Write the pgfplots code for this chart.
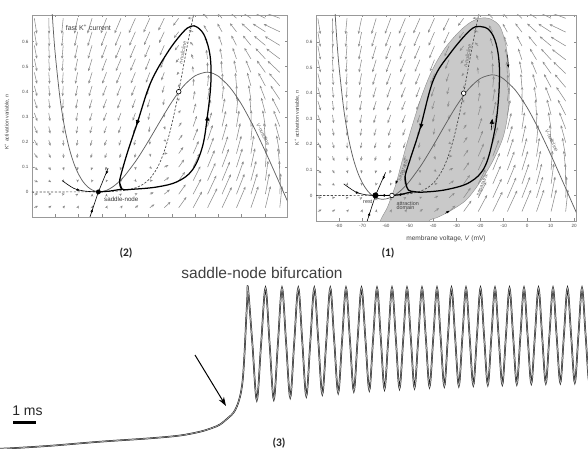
\documentclass[border=0pt]{standalone}
\usepackage{fontspec}
\setmainfont{Liberation Sans}
\newfontfamily\carl{Carlito}
\usepackage{pgfplots}
\usepackage{pgfplotstable}
\pgfplotsset{compat=1.18}
\usetikzlibrary{arrows.meta}
\newcommand\fs[1]{\fontsize{#1}{#1}\selectfont}

\pgfplotstableread{
x y du dn
-89 -0.063 102.3 0.063
-89 -0.009 101.8 0.009
-89 0.045 101.2 -0.045
-89 0.099 100.7 -0.099
-89 0.153 100.1 -0.153
-89 0.207 99.6 -0.207
-89 0.261 99.1 -0.261
-89 0.315 98.5 -0.315
-89 0.369 98.0 -0.369
-89 0.423 97.4 -0.423
-89 0.477 96.9 -0.477
-89 0.531 96.4 -0.531
-89 0.585 95.8 -0.585
-89 0.639 95.3 -0.639
-89 0.693 94.7 -0.693
-82.8 -0.063 69.7 0.063
-82.8 -0.009 65.8 0.009
-82.8 0.045 61.9 -0.045
-82.8 0.099 58.0 -0.099
-82.8 0.153 54.1 -0.153
-82.8 0.207 50.2 -0.207
-82.8 0.261 46.4 -0.261
-82.8 0.315 42.5 -0.315
-82.8 0.369 38.6 -0.369
-82.8 0.423 34.7 -0.423
-82.8 0.477 30.8 -0.477
-82.8 0.531 26.9 -0.531
-82.8 0.585 23.0 -0.585
-82.8 0.639 19.1 -0.639
-82.8 0.693 15.2 -0.693
-76.6 -0.063 42.6 0.063
-76.6 -0.009 35.4 0.009
-76.6 0.045 28.1 -0.045
-76.6 0.099 20.9 -0.099
-76.6 0.153 13.6 -0.153
-76.6 0.207 6.4 -0.207
-76.6 0.261 -0.8 -0.261
-76.6 0.315 -8.1 -0.315
-76.6 0.369 -15.3 -0.369
-76.6 0.423 -22.6 -0.423
-76.6 0.477 -29.8 -0.477
-76.6 0.531 -37.0 -0.531
-76.6 0.585 -44.3 -0.585
-76.6 0.639 -51.5 -0.639
-76.6 0.693 -58.8 -0.693
-70.4 -0.063 23.1 0.063
-70.4 -0.009 12.5 0.009
-70.4 0.045 1.9 -0.045
-70.4 0.099 -8.6 -0.099
-70.4 0.153 -19.2 -0.153
-70.4 0.207 -29.8 -0.207
-70.4 0.261 -40.4 -0.261
-70.4 0.315 -51.0 -0.315
-70.4 0.369 -61.5 -0.369
-70.4 0.423 -72.1 -0.423
-70.4 0.477 -82.7 -0.477
-70.4 0.531 -93.3 -0.531
-70.4 0.585 -103.9 -0.585
-70.4 0.639 -114.4 -0.639
-70.4 0.693 -125.0 -0.693
-64.2 -0.063 13.8 0.063
-64.2 -0.009 -0.1 0.009
-64.2 0.045 -14.1 -0.045
-64.2 0.099 -28.0 -0.099
-64.2 0.153 -41.9 -0.153
-64.2 0.207 -55.9 -0.207
-64.2 0.261 -69.8 -0.261
-64.2 0.315 -83.7 -0.315
-64.2 0.369 -97.6 -0.369
-64.2 0.423 -111.6 -0.423
-64.2 0.477 -125.5 -0.477
-64.2 0.531 -139.4 -0.531
-64.2 0.585 -153.4 -0.585
-64.2 0.639 -167.3 -0.639
-64.2 0.693 -181.2 -0.693
-58 -0.063 17.7 0.064
-58 -0.009 0.4 0.010
-58 0.045 -16.9 -0.044
-58 0.099 -34.1 -0.098
-58 0.153 -51.4 -0.152
-58 0.207 -68.7 -0.206
-58 0.261 -86.0 -0.260
-58 0.315 -103.3 -0.314
-58 0.369 -120.5 -0.368
-58 0.423 -137.8 -0.422
-58 0.477 -155.1 -0.476
-58 0.531 -172.4 -0.530
-58 0.585 -189.7 -0.584
-58 0.639 -206.9 -0.638
-58 0.693 -224.2 -0.692
-51.8 -0.063 38.2 0.068
-51.8 -0.009 17.6 0.014
-51.8 0.045 -3.1 -0.040
-51.8 0.099 -23.7 -0.094
-51.8 0.153 -44.3 -0.148
-51.8 0.207 -65.0 -0.202
-51.8 0.261 -85.6 -0.256
-51.8 0.315 -106.2 -0.310
-51.8 0.369 -126.8 -0.364
-51.8 0.423 -147.5 -0.418
-51.8 0.477 -168.1 -0.472
-51.8 0.531 -188.7 -0.526
-51.8 0.585 -209.4 -0.580
-51.8 0.639 -230.0 -0.634
-51.8 0.693 -250.6 -0.688
-45.6 -0.063 77.2 0.079
-45.6 -0.009 53.2 0.025
-45.6 0.045 29.2 -0.029
-45.6 0.099 5.3 -0.083
-45.6 0.153 -18.7 -0.137
-45.6 0.207 -42.7 -0.191
-45.6 0.261 -66.7 -0.245
-45.6 0.315 -90.7 -0.299
-45.6 0.369 -114.6 -0.353
-45.6 0.423 -138.6 -0.407
-45.6 0.477 -162.6 -0.461
-45.6 0.531 -186.6 -0.515
-45.6 0.585 -210.6 -0.569
-45.6 0.639 -234.5 -0.623
-45.6 0.693 -258.5 -0.677
-39.4 -0.063 135.1 0.116
-39.4 -0.009 107.8 0.062
-39.4 0.045 80.5 0.008
-39.4 0.099 53.1 -0.046
-39.4 0.153 25.8 -0.100
-39.4 0.207 -1.5 -0.154
-39.4 0.261 -28.8 -0.208
-39.4 0.315 -56.1 -0.262
-39.4 0.369 -83.5 -0.316
-39.4 0.423 -110.8 -0.370
-39.4 0.477 -138.1 -0.424
-39.4 0.531 -165.4 -0.478
-39.4 0.585 -192.7 -0.532
-39.4 0.639 -220.1 -0.586
-39.4 0.693 -247.4 -0.640
-33.2 -0.063 207.9 0.226
-33.2 -0.009 177.2 0.172
-33.2 0.045 146.6 0.118
-33.2 0.099 115.9 0.064
-33.2 0.153 85.2 0.010
-33.2 0.207 54.6 -0.045
-33.2 0.261 23.9 -0.099
-33.2 0.315 -6.8 -0.153
-33.2 0.369 -37.5 -0.207
-33.2 0.423 -68.1 -0.261
-33.2 0.477 -98.8 -0.315
-33.2 0.531 -129.5 -0.369
-33.2 0.585 -160.1 -0.423
-33.2 0.639 -190.8 -0.477
-33.2 0.693 -221.5 -0.531
-27 -0.063 286.3 0.464
-27 -0.009 252.3 0.410
-27 0.045 218.3 0.356
-27 0.099 184.2 0.302
-27 0.153 150.2 0.248
-27 0.207 116.2 0.194
-27 0.261 82.2 0.140
-27 0.315 48.2 0.086
-27 0.369 14.1 0.032
-27 0.423 -19.9 -0.022
-27 0.477 -53.9 -0.076
-27 0.531 -87.9 -0.130
-27 0.585 -121.9 -0.184
-27 0.639 -156.0 -0.238
-27 0.693 -190.0 -0.292
-20.8 -0.063 356.5 0.762
-20.8 -0.009 319.1 0.708
-20.8 0.045 281.8 0.654
-20.8 0.099 244.4 0.600
-20.8 0.153 207.0 0.546
-20.8 0.207 169.7 0.492
-20.8 0.261 132.3 0.438
-20.8 0.315 94.9 0.384
-20.8 0.369 57.5 0.330
-20.8 0.423 20.2 0.276
-20.8 0.477 -17.2 0.222
-20.8 0.531 -54.6 0.168
-20.8 0.585 -91.9 0.114
-20.8 0.639 -129.3 0.060
-20.8 0.693 -166.7 0.006
-14.6 -0.063 403.2 0.952
-14.6 -0.009 362.5 0.898
-14.6 0.045 321.8 0.844
-14.6 0.099 281.0 0.790
-14.6 0.153 240.3 0.736
-14.6 0.207 199.6 0.682
-14.6 0.261 158.9 0.628
-14.6 0.315 118.2 0.574
-14.6 0.369 77.4 0.520
-14.6 0.423 36.7 0.466
-14.6 0.477 -4.0 0.412
-14.6 0.531 -44.7 0.358
-14.6 0.585 -85.4 0.304
-14.6 0.639 -126.2 0.250
-14.6 0.693 -166.9 0.196
-8.4 -0.063 414.6 1.028
-8.4 -0.009 370.5 0.974
-8.4 0.045 326.5 0.920
-8.4 0.099 282.4 0.866
-8.4 0.153 238.4 0.812
-8.4 0.207 194.3 0.758
-8.4 0.261 150.2 0.704
-8.4 0.315 106.2 0.650
-8.4 0.369 62.1 0.596
-8.4 0.423 18.1 0.542
-8.4 0.477 -26.0 0.488
-8.4 0.531 -70.1 0.434
-8.4 0.585 -114.1 0.380
-8.4 0.639 -158.2 0.326
-8.4 0.693 -202.2 0.272
-2.2 -0.063 386.1 1.053
-2.2 -0.009 338.7 0.999
-2.2 0.045 291.3 0.945
-2.2 0.099 243.9 0.891
-2.2 0.153 196.5 0.837
-2.2 0.207 149.1 0.783
-2.2 0.261 101.6 0.729
-2.2 0.315 54.2 0.675
-2.2 0.369 6.8 0.621
-2.2 0.423 -40.6 0.567
-2.2 0.477 -88.0 0.513
-2.2 0.531 -135.4 0.459
-2.2 0.585 -182.8 0.405
-2.2 0.639 -230.2 0.351
-2.2 0.693 -277.6 0.297
4 -0.063 319.0 1.060
4 -0.009 268.2 1.006
4 0.045 217.5 0.952
4 0.099 166.7 0.898
4 0.153 116.0 0.844
4 0.207 65.2 0.790
4 0.261 14.4 0.736
4 0.315 -36.3 0.682
4 0.369 -87.1 0.628
4 0.423 -137.8 0.574
4 0.477 -188.6 0.520
4 0.531 -239.4 0.466
4 0.585 -290.1 0.412
4 0.639 -340.9 0.358
4 0.693 -391.6 0.304
10.2 -0.063 220.2 1.062
10.2 -0.009 166.1 1.008
10.2 0.045 112.0 0.954
10.2 0.099 57.9 0.900
10.2 0.153 3.8 0.846
10.2 0.207 -50.4 0.792
10.2 0.261 -104.5 0.738
10.2 0.315 -158.6 0.684
10.2 0.369 -212.7 0.630
10.2 0.423 -266.8 0.576
10.2 0.477 -320.9 0.522
10.2 0.531 -375.0 0.468
10.2 0.585 -429.1 0.414
10.2 0.639 -483.2 0.360
10.2 0.693 -537.3 0.306
16.4 -0.063 97.1 1.063
16.4 -0.009 39.6 1.009
16.4 0.045 -17.8 0.955
16.4 0.099 -75.3 0.901
16.4 0.153 -132.7 0.847
16.4 0.207 -190.2 0.793
16.4 0.261 -247.7 0.739
16.4 0.315 -305.1 0.685
16.4 0.369 -362.6 0.631
16.4 0.423 -420.0 0.577
16.4 0.477 -477.5 0.523
16.4 0.531 -535.0 0.469
16.4 0.585 -592.4 0.415
16.4 0.639 -649.9 0.361
16.4 0.693 -707.3 0.307
}\vf

% V-nullcline, I = 0 (right panel)
\pgfplotstableread{
V n
-82 0.760
-81 0.617
-80 0.504
-78 0.338
-76 0.225
-74 0.1456
-72 0.0886
-70 0.0479
-68 0.0195
-66 0.0006
-64 -0.0103
-62 -0.0146
-60 -0.0135
-58 -0.0077
-56 0.0029
-54 0.0171
-52 0.0347
-50 0.0556
-45 0.119
-40 0.194
-35 0.274
-30 0.351
-25 0.415
-20 0.457
-15 0.472
-12 0.466
-10 0.456
-5 0.412
0 0.344
5 0.258
10 0.161
15 0.0575
20 -0.047
22 -0.089
}\vnullR

% V-nullcline at the saddle-node (left panel)
\pgfplotstableread{
V n
-82 0.816
-81 0.667
-80 0.549
-78 0.3755
-76 0.257
-74 0.1737
-72 0.1136
-70 0.0704
-68 0.040
-66 0.0194
-64 0.0070
-62 0.0015
-60 0.0015
-58 0.0064
-56 0.0161
-54 0.0296
-52 0.0465
-50 0.0669
-45 0.129
-40 0.203
-35 0.282
-30 0.3585
-25 0.422
-20 0.463
-15 0.478
-12 0.472
-10 0.462
-5 0.417
0 0.349
5 0.263
10 0.1655
15 0.0618
20 -0.043
22 -0.085
}\vnullL

% n-nullcline
\pgfplotstableread{
V n
-90 0
-60 0.0009
-50 0.0067
-45 0.018
-42 0.0323
-40 0.0474
-39 0.0573
-37 0.0832
-36 0.0998
-35 0.1192
-34 0.1419
-33 0.168
-32 0.1978
-31 0.2315
-30 0.269
-29 0.310
-28 0.354
-27 0.401
-26 0.450
-25 0.500
-24 0.550
-23 0.599
-22 0.646
-21 0.690
-20 0.731
}\nnull

% voltage trace (pixel coordinates, y downwards)
\pgfplotstableread{
x y
-2 448.6
10 448.3
50 445.8
100 441.7
150 438.3
180 435.5
200 431.7
212 428
220 424.5
228 418
233.3 413
237 406
240 396.7
242 386
243.3 373
244.7 350
246 323
247.2 300
248 288
252.4 344
256.8 400
261.1 344
265.5 288
269.6 343.7
273.8 399.3
277.9 343.7
282 288
286.1 342.7
290.2 397.3
294.2 342.7
298.3 288
302.3 342
306.3 396
310.3 342
314.3 288
318.3 341
322.3 394
326.3 341
330.3 288
334.2 340.4
338.2 392.7
342.1 340.4
346 288
349.9 339.5
353.8 391
357.6 339.5
361.5 288
365.4 339
369.3 390
373.1 339
377 288
380.8 338.5
384.5 389
388.3 338.5
392 288
395.8 338.2
399.5 388.3
403.3 338.2
407 288
410.8 337.9
414.5 387.7
418.3 337.9
422 288
425.8 337.4
429.5 386.7
433.3 337.4
437 288
440.6 337
444.3 386
447.9 337
451.5 288
455.1 336.9
458.8 385.7
462.4 336.9
466 288
469.6 336.5
473.3 385
476.9 336.5
480.5 288
484.1 336.4
487.8 384.7
491.4 336.4
495 288
498.6 336.2
502.3 384.3
505.9 336.2
509.5 288
513.1 336
516.8 384
520.4 336
524 288
527.6 335.7
531.3 383.3
534.9 335.7
538.5 288
542.1 335.5
545.8 383
549.4 335.5
553 288
556.6 335.4
560.3 382.7
563.9 335.4
567.5 288
571.1 335.3
574.8 382.5
578.4 335.3
582 288
585.6 335.2
589.3 382.3
593 335.2
}\trace

\pgfplotsset{
  phase/.style={
    scale only axis,
    axis line style={black!40, line width=0.5pt},
    tick style={black!45, line width=0.4pt},
    major tick length=2.5pt,
    xtick={-80,-70,-60,-50,-40,-30,-20,-10,0,10,20},
    ytick={0,0.1,0.2,0.3,0.4,0.5,0.6},
    tick label style={font=\fs{4.6}, text=black!70},
    /pgf/number format/assume math mode=true,
    ymin=-0.1, ymax=0.706,
    ylabel={K\textsuperscript{+} activation variable, \textit{n}},
    ylabel style={font=\fs{5.2}, text=black!75},
    clip mode=individual,
  },
  vfield/.style={
    black!45, line width=0.55pt,
    -{Stealth[length=3pt,width=2.5pt]},
    quiver={
      u={\thisrow{du}*0.0187*((0.0232*\thisrow{du})^2+(20*\thisrow{dn})^2)^(-0.1)},
      v={\thisrow{dn}*0.1496*((0.0232*\thisrow{du})^2+(20*\thisrow{dn})^2)^(-0.1)}
    },
  },
  vnull/.style={black!62, line width=0.75pt, smooth},
  nnull/.style={black!70, line width=0.7pt, dash pattern=on 2.2pt off 1.6pt, smooth},
  cyc/.style={black, line width=1.25pt, smooth, tension=0.6},
  tip/.style={black, line width=0.6pt, -{Triangle[length=5pt,width=4pt]}},
  smalltip/.style={black, line width=0.5pt, -{Triangle[length=3pt,width=2.4pt]}},
}

\begin{document}
\begin{tikzpicture}[x=1pt,y=1pt]
\useasboundingbox (0pt,0pt) rectangle (588pt,449pt);

% ---------------- left panel (2) ----------------
\begin{axis}[phase,
  at={(32pt,232pt)}, anchor=south west, width=255pt, height=202pt,
  xmin=-90, xmax=19.5,
  xticklabels={},
  ylabel style={at={(axis description cs:-0.098,0.47)}, anchor=center},
]
\addplot[vfield] table[x=x,y=y] {\vf};
\addplot[nnull] table[x=V,y=n] {\nnull};
\addplot[vnull] table[x=V,y=n] {\vnullL};
% stable manifold through the saddle-node
\addplot[black, line width=0.6pt] coordinates {(-65.3,-0.105) (-61.5,0) (-57.3,0.095)};
\addplot[smalltip] coordinates {(-57.7,0.084) (-58.2,0.071)};
\addplot[smalltip] coordinates {(-64.5,-0.082) (-64.0,-0.068)};
% trajectory into the saddle-node from the left
\addplot[black, line width=0.6pt, smooth] coordinates {(-77,0.045) (-72,0.014) (-67,0.003) (-61.5,0)};
\addplot[smalltip] coordinates {(-71,0.010) (-69.5,0.006)};
% homoclinic (SNIC) orbit
\addplot[black, line width=1.2pt, smooth] coordinates {(-61.5,0) (-57,0.003) (-53.5,0.008) (-51.3,0.011)};
\addplot[cyc] coordinates {
(-52.3,0.035) (-51.3,0.011) (-46.3,0.011) (-36.2,0.02) (-27.6,0.041)
(-21.1,0.088) (-16.8,0.181) (-14.6,0.308) (-13.2,0.435) (-13.5,0.541)
(-15.8,0.621) (-19,0.657) (-21.8,0.661) (-25.4,0.635) (-31.9,0.555)
(-39.1,0.435) (-44.8,0.275) (-49.1,0.155) (-52,0.061) (-52.3,0.035) (-51.3,0.011)};
\addplot[tip] coordinates {(-44.4,0.290) (-45.1,0.266)};
\addplot[tip] coordinates {(-15.0,0.262) (-14.6,0.305)};
% equilibria
\addplot[only marks, mark=*, mark size=2.3pt, mark options={fill=white, draw=black, line width=0.6pt}] coordinates {(-27,0.40)};
\addplot[only marks, mark=*, mark size=2.2pt, mark options={fill=black, draw=black}] coordinates {(-61.5,0)};
% labels
\node[font=\fs{7}, text=black!75, anchor=west] at (axis cs:-77,0.655) {fast K\textsuperscript{+} current};
\node[font=\fs{6.2}, text=black!80, anchor=west] at (axis cs:-60.5,-0.029) {saddle-node};
\node[font=\fs{5.2}, text=black!60, rotate=79] at (axis cs:-25.3,0.555) {\textit{n}-nullcline};
\node[font=\fs{5.2}, text=black!60, rotate=-64] at (axis cs:9.3,0.23) {\textit{V}-nullcline};
\end{axis}

% ---------------- right panel (1) ----------------
\begin{axis}[phase,
  at={(316pt,228pt)}, anchor=south west, width=260pt, height=206pt,
  xmin=-89.8, xmax=20.8,
  xlabel={membrane voltage, \textit{V} (mV)},
  xlabel style={font=\fs{6.6}, text=black!75, at={(axis description cs:0.5,-0.085)}, anchor=center},
  ylabel style={at={(axis description cs:-0.073,0.5)}, anchor=center},
]
% attraction domain
\addplot[fill=black!21, draw=black!45, line width=0.4pt, smooth, tension=0.5] coordinates {
(-63,-0.13) (-62.3,-0.096) (-59.6,-0.05) (-57.5,0) (-55.6,0.05) (-53.6,0.12) (-51.2,0.2)
(-48.3,0.29) (-44.8,0.39) (-40.4,0.49) (-35,0.575) (-29,0.64) (-24,0.678) (-19.5,0.694)
(-15.5,0.69) (-11.5,0.66) (-8.9,0.581) (-7.5,0.464) (-8,0.335) (-10.1,0.231)
(-14.3,0.14) (-19.3,0.062) (-25.7,-0.016) (-32.8,-0.061) (-38.4,-0.087) (-41.3,-0.096) (-44,-0.13)} -- cycle;
\addplot[vfield] table[x=x,y=y] {\vf};
\addplot[nnull] table[x=V,y=n] {\nnull};
\addplot[vnull] table[x=V,y=n] {\vnullR};
% separatrix arrows
\addplot[smalltip] coordinates {(-34.8,-0.070) (-33.0,-0.060)};
\addplot[smalltip] coordinates {(-8.3,0.55) (-8.0,0.50)};
\addplot[smalltip] coordinates {(-55.2,0.062) (-55.9,0.045)};
% stable manifold of rest
\addplot[black, line width=0.6pt] coordinates {(-68.2,-0.105) (-64.5,0) (-60.2,0.09)};
\addplot[smalltip] coordinates {(-60.7,0.079) (-61.3,0.063)};
\addplot[smalltip] coordinates {(-67.4,-0.082) (-66.9,-0.067)};
% trajectory into rest from the left
\addplot[black, line width=0.6pt, smooth] coordinates {(-78,0.045) (-73,0.014) (-69,0.003) (-64.5,0)};
\addplot[smalltip] coordinates {(-73,0.013) (-71.5,0.008)};
% saddle unstable manifold
\addplot[black, line width=1.2pt] coordinates {(-57.5,0) (-64.5,0)};
\addplot[smalltip] coordinates {(-60.5,0) (-61.8,0)};
\addplot[black, line width=1.2pt, smooth] coordinates {(-57.5,0) (-54,0.003) (-51,0.01) (-48,0.015)};
\addplot[smalltip] coordinates {(-54.5,0.002) (-52.8,0.006)};
% limit cycle
\addplot[cyc] coordinates {
(-51.9,0.075) (-51.5,0.045) (-50.5,0.021) (-48,0.015) (-44.1,0.013) (-34.2,0.023)
(-24.3,0.052) (-17.9,0.114) (-14,0.244) (-12.2,0.374) (-11.8,0.503) (-13.2,0.594)
(-16,0.646) (-20,0.661) (-24.3,0.646) (-32.8,0.555) (-39.9,0.451) (-45.5,0.263)
(-49.8,0.14) (-51.9,0.075) (-51.5,0.045)};
\addplot[tip] coordinates {(-44.8,0.285) (-45.4,0.260)};
\addplot[tip] coordinates {(-15.3,0.255) (-14.8,0.300)};
% equilibria
\addplot[only marks, mark=*, mark size=2.3pt, mark options={fill=white, draw=black, line width=0.6pt}] coordinates {(-27,0.40)};
\addplot[only marks, mark=*, mark size=2.3pt, mark options={fill=white, draw=black, line width=0.6pt}] coordinates {(-57.5,0)};
\addplot[only marks, mark=*, mark size=2.8pt, mark options={fill=black, draw=black}] coordinates {(-64.5,0)};
% labels
\node[font=\fs{5.4}, text=black!80] at (axis cs:-67.8,-0.023) {rest};
\node[font=\fs{5.4}, text=black!75, anchor=north west, align=left, inner sep=0pt] at (axis cs:-55.6,-0.022) {attraction\\[-1.2pt]domain};
\node[font=\fs{5.2}, text=black!60, rotate=70] at (axis cs:-52.6,0.10) {separatrix};
\node[font=\fs{5.2}, text=black!60, rotate=67] at (axis cs:-19.0,0.040) {separatrix};
\node[font=\fs{5.2}, text=black!60, rotate=79] at (axis cs:-25.3,0.545) {\textit{n}-nullcline};
\node[font=\fs{5.2}, text=black!60, rotate=-64] at (axis cs:10.5,0.215) {\textit{V}-nullcline};
\end{axis}

% ---------------- trace (3) and panel labels ----------------
\begin{axis}[at={(0pt,0pt)}, anchor=south west, width=588pt, height=449pt, scale only axis,
  xmin=0, xmax=588, ymin=0, ymax=449, y dir=reverse, hide axis, clip mode=individual]
\addplot[black!90, line width=1.6pt, smooth, tension=0.55] table[x=x,y=y] {\trace};
\addplot[black!30, line width=0.6pt, smooth, tension=0.55] table[x=x,y=y] {\trace};
\addplot[black, line width=2.8pt] coordinates {(13.3,422.7) (36,422.7)};
\draw[black, line width=1pt, -{Stealth[length=9pt,width=6pt]}] (axis cs:195,355) -- (axis cs:226,406);
\node[font=\fs{15.5}, text=black!75] at (axis cs:262,273) {saddle-node bifurcation};
\node[font=\fs{14}, text=black!85] at (axis cs:27.5,411) {1 ms};
\node[font=\carl\bfseries\fs{11.5}, text=black!85] at (axis cs:126,253) {(2)};
\node[font=\carl\bfseries\fs{11.5}, text=black!85] at (axis cs:388,253) {(1)};
\node[font=\carl\bfseries\fs{11.5}, text=black!85] at (axis cs:279,443) {(3)};
\end{axis}
\end{tikzpicture}
\end{document}
